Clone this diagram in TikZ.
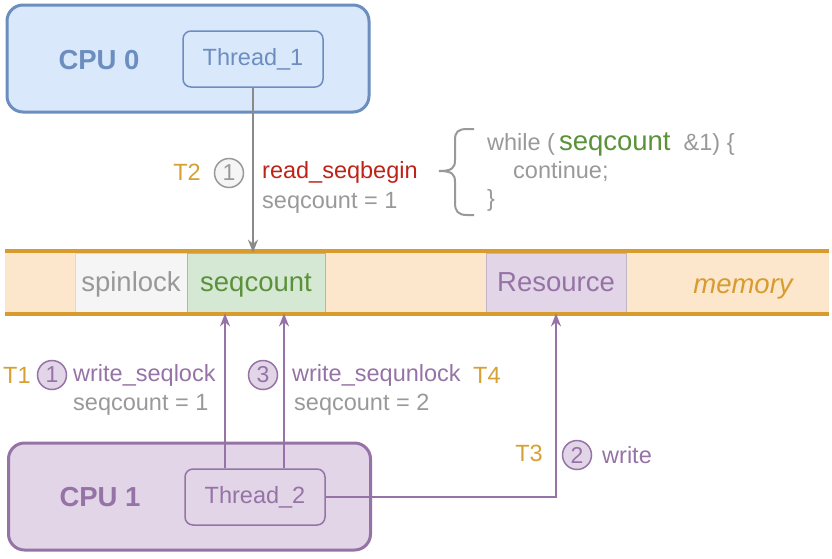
\documentclass[tikz,border=0pt]{standalone}
\usepackage{fontspec}
\setmainfont{Liberation Sans}
\usetikzlibrary{arrows.meta,positioning,calc}

\definecolor{bluefill}{HTML}{DAE8FC}
\definecolor{bluedraw}{HTML}{6C8EBF}
\definecolor{purfill}{HTML}{E1D5E7}
\definecolor{purdraw}{HTML}{9673A6}
\definecolor{memfill}{HTML}{FCE6CC}
\definecolor{memline}{HTML}{D79B2E}
\definecolor{grnfill}{HTML}{D5E8D4}
\definecolor{grntxt}{HTML}{5A9139}
\definecolor{gryfill}{HTML}{F5F5F5}
\definecolor{grytxt}{HTML}{999999}
\definecolor{redtxt}{HTML}{BE2318}
\definecolor{tlbl}{HTML}{D6A033}

\begin{document}
\begin{tikzpicture}[x=1pt, y=-1pt,
    cpubox/.style={draw, line width=3pt, rounded corners=16pt, minimum width=362pt, minimum height=107pt},
    thrbox/.style={draw, line width=1.5pt, rounded corners=8pt, minimum width=140pt, minimum height=56pt, font=\fontsize{23.5}{28}\selectfont},
    cputxt/.style={font=\fontsize{27.5}{32}\selectfont\bfseries},
    cell/.style={draw, line width=0.8pt, minimum width=#1, minimum height=60pt, inner sep=0pt, text height=20pt, text depth=2.6pt, font=\fontsize{27.5}{32}\selectfont},
    lbl/.style={font=\fontsize{23.5}{28}\selectfont, inner sep=0pt},
    num/.style={circle, draw, line width=1.5pt, minimum size=29pt, inner sep=0pt, font=\fontsize{23}{28}\selectfont},
    rd/.style={-{Stealth[length=13pt,width=10pt]}, line width=2pt, grytxt!90!black},
    wr/.style={-{Stealth[length=13pt,width=10pt]}, line width=2pt, purdraw}
]
\useasboundingbox (0,0) rectangle (832,558);

% CPU 0
\node[cpubox, draw=bluedraw, fill=bluefill] (cpu0) at (188,58.5) {};
\node[cputxt, text=bluedraw] (cpu0txt) at (99,60) {CPU 0};
\node[thrbox, draw=bluedraw, fill=bluefill, text=bluedraw] (thr1) at (253,59) {Thread\_1};

% memory
\node[fill=memfill, minimum width=824pt, minimum height=62pt, inner sep=0pt] (mem) at (417,282.5) {};
\node[cell=112pt, draw=black!15, fill=gryfill, text=grytxt] (spin) at (131,283) {spinlock};
\node[cell=138pt, draw=grnfill!80!black, fill=grnfill, text=grntxt] (seqcnt) at (256,283) {seqcount};
\node[cell=140pt, draw=purfill!85!black, fill=purfill, text=purdraw] (res) at (556,283) {Resource};
\node[font=\fontsize{27.5}{32}\selectfont\itshape, text=memline, anchor=base, inner sep=0pt] (memtxt) at (743,293) {memory};
\draw[memline, line width=4pt] (mem.north west) -- (mem.north east);
\draw[memline, line width=4pt] (mem.south west) -- (mem.south east);

% CPU 1
\node[cpubox, draw=purdraw, fill=purfill] (cpu1) at (189.5,496.5) {};
\node[cputxt, text=purdraw] (cpu1txt) at (100,497) {CPU 1};
\node[thrbox, draw=purdraw, fill=purfill, text=purdraw] (thr2) at (255,497) {Thread\_2};

% reader
\draw[rd] (thr1.south) -- (thr1.south |- seqcnt.north);
\node[lbl, anchor=east, text=tlbl] (t2) at (201,172) {T2};
\node[num, draw=grytxt, fill=gryfill, text=grytxt] (n1r) at (229,173) {1};
\node[lbl, anchor=west, text=redtxt] (rdbeg) at (262,172) {read\_seqbegin};
\node[lbl, anchor=west, text=grytxt] (rdcnt) at (262,203) {seqcount = 1};

% while loop
\draw[grytxt, line width=2pt] (474,129) -- (467,129) .. controls (458,129) and (455,132) .. (455,140)
    -- (455,160) .. controls (455,168) and (452,171) .. (439,171)
    .. controls (452,171) and (455,174) .. (455,182)
    -- (455,203) .. controls (455,211) and (458,215) .. (467,215) -- (474,215);
\node[lbl, anchor=base west, text=grytxt] (code1) at (487,150) {while (\,{\fontsize{27.5}{32}\selectfont\color{grntxt}seqcount}\ \ \&1) \{};
\node[lbl, anchor=base west, text=grytxt] (code2) at (513,178) {continue;};
\node[lbl, anchor=base west, text=grytxt] (code3) at (487,206) {\}};

% writer
\draw[wr] ([xshift=-30pt]thr2.north) -- ([xshift=-30pt]thr2.north |- seqcnt.south);
\draw[wr] ([xshift=29pt]thr2.north) -- ([xshift=29pt]thr2.north |- seqcnt.south);
\draw[wr] (thr2.east) -| (res.south);

\node[lbl, anchor=west, text=tlbl] (t1) at (3,375) {T1};
\node[num, draw=purdraw, fill=purfill, text=purdraw] (n1w) at (52,375) {1};
\node[lbl, anchor=west, text=purdraw] (wrlock) at (73,375) {write\_seqlock};
\node[lbl, anchor=west, text=grytxt] (wrcnt1) at (73,405) {seqcount = 1};

\node[num, draw=purdraw, fill=purfill, text=purdraw] (n3w) at (263,375) {3};
\node[lbl, anchor=west, text=purdraw] (wrunlock) at (292,375) {write\_sequnlock};
\node[lbl, anchor=west, text=tlbl] (t4) at (473,375) {T4};
\node[lbl, anchor=west, text=grytxt] (wrcnt2) at (294,405) {seqcount = 2};

\node[lbl, anchor=east, text=tlbl] (t3) at (543,453) {T3};
\node[num, draw=purdraw, fill=purfill, text=purdraw] (n2w) at (577,455) {2};
\node[lbl, anchor=west, text=purdraw] (wrres) at (602,455) {write};
\end{tikzpicture}
\end{document}
